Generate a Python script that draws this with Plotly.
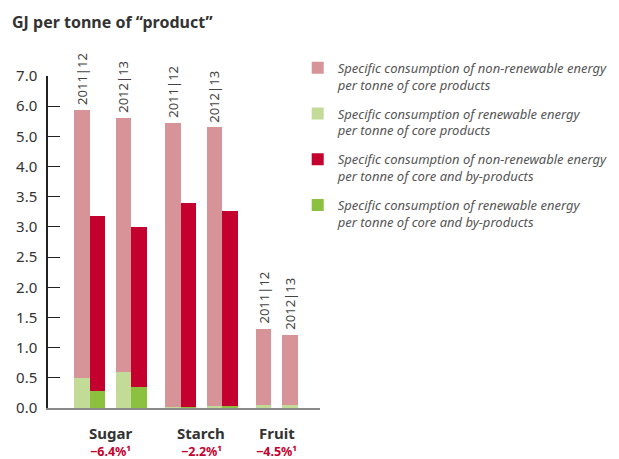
import plotly.graph_objects as go

# ---------------- data ----------------
groups = ["Sugar", "Starch", "Fruit"]
years = ["2011|12", "2012|13"]
changes = ["−6.4%¹", "−2.2%¹", "−4.5%¹"]
# per group, per year (GJ per tonne)
core_nonrenew = [[5.37, 5.00], [5.43, 5.26], [1.26, 1.16]]
core_renew = [[0.50, 0.60], [0.01, 0.04], [0.05, 0.05]]
by_nonrenew = [[2.90, 2.65], [3.38, 3.22], None]
by_renew = [[0.28, 0.35], [0.01, 0.04], None]
y_tick_values = [0.0, 0.5, 1.0, 1.5, 2.0, 2.5, 3.0, 3.5, 4.0, 5.0, 6.0, 7.0]
y_tick_labels = ["0.0", "0.5", "1.0", "1.5", "2.0", "2.5", "3.0", "3.5", "4.0", "5.0", "6.0", "7.0"]
series_names = [
    "Specific consumption of non-renewable energy<br>per tonne of core products",
    "Specific consumption of renewable energy<br>per tonne of core products",
    "Specific consumption of non-renewable energy<br>per tonne of core and by-products",
    "Specific consumption of renewable energy<br>per tonne of core and by-products",
]

# ---------------- styles ----------------
C_CORE_NR = "#d69498"
C_CORE_R = "#c2dc98"
C_BY_NR = "#c4002e"
C_BY_R = "#8bc13f"
FONT = "Noto Sans"

# the page body adds an 8px margin at top/left; the figure is sized to fit
PAGE_W, PAGE_H, BODY = 619, 459, 8
W, H = PAGE_W - BODY, PAGE_H - BODY

# the chart's value axis is piecewise: 0.5 steps up to 4.0, then 1.0 steps
def scale(v):
    return 2 * v if v <= 4 else 8 + (v - 4)

# bar slot layout (x units = pixels from the value axis)
BW = 15.6
GAP_YEAR = 10.5
GAP_GROUP = 18
START = 26

core_x, by_x, group_centers = [], [], []
cursor = START
for gi, g in enumerate(groups):
    g_left = cursor
    for yi in range(len(years)):
        core_x.append(cursor + BW / 2)
        cursor += BW
        if by_nonrenew[gi] is not None:
            by_x.append(cursor + BW / 2)
            cursor += BW
        if yi < len(years) - 1:
            cursor += GAP_YEAR
    group_centers.append((g_left + cursor) / 2)
    cursor += GAP_GROUP

cr_flat = [v for g in core_renew for v in g]
cn_flat = [v for g in core_nonrenew for v in g]
br_flat = [v for g in by_renew if g for v in g]
bn_flat = [v for g in by_nonrenew if g for v in g]

core_tot = [a + b for a, b in zip(cr_flat, cn_flat)]
by_tot = [a + b for a, b in zip(br_flat, bn_flat)]

fig = go.Figure()
fig.add_trace(go.Bar(
    x=core_x, base=[scale(v) for v in cr_flat],
    y=[scale(t) - scale(r) for t, r in zip(core_tot, cr_flat)],
    width=BW, marker=dict(color=C_CORE_NR, line=dict(width=0)),
    name=series_names[0], legendgroup="a"))
fig.add_trace(go.Bar(
    x=core_x, base=[0] * len(cr_flat), y=[scale(v) for v in cr_flat],
    width=BW, marker=dict(color=C_CORE_R, line=dict(width=0)),
    name=series_names[1], legendgroup="b"))
fig.add_trace(go.Bar(
    x=by_x, base=[scale(v) for v in br_flat],
    y=[scale(t) - scale(r) for t, r in zip(by_tot, br_flat)],
    width=BW, marker=dict(color=C_BY_NR, line=dict(width=0)),
    name=series_names[2], legendgroup="c"))
fig.add_trace(go.Bar(
    x=by_x, base=[0] * len(br_flat), y=[scale(v) for v in br_flat],
    width=BW, marker=dict(color=C_BY_R, line=dict(width=0)),
    name=series_names[3], legendgroup="d"))

annotations = []
for i, (cx, tot) in enumerate(zip(core_x, core_tot)):
    annotations.append(dict(
        x=cx, y=scale(tot), xref="x", yref="y", text=years[i % len(years)],
        textangle=-90, showarrow=False, xanchor="center", yanchor="bottom",
        yshift=3, font=dict(family=FONT, size=13, color="#444444")))
for gc, g, ch in zip(group_centers, groups, changes):
    annotations.append(dict(
        x=gc, y=0, xref="x", yref="paper", text="<b>%s</b>" % g, showarrow=False,
        xanchor="center", yanchor="middle", yshift=-25,
        font=dict(family=FONT, size=15, color="#333333")))
    annotations.append(dict(
        x=gc, y=0, xref="x", yref="paper", text="<b>%s</b>" % ch, showarrow=False,
        xanchor="center", yanchor="middle", yshift=-43,
        font=dict(family=FONT, size=12.5, color=C_BY_NR)))

# plot area in page pixels: x 48..320, y 76..408
L, R, T, B = 48 - BODY, PAGE_W - 320, 76 - BODY, PAGE_H - 408
fig.update_layout(
    width=W, height=H,
    margin=dict(l=L, r=R, t=T, b=B, autoexpand=False),
    paper_bgcolor="white", plot_bgcolor="white",
    barmode="overlay", bargap=0,
    title=dict(text="<b>GJ per tonne of “product”</b>", x=(12 - BODY) / W, xref="container",
               xanchor="left", y=1 - (22 - BODY) / H, yref="container", yanchor="middle",
               font=dict(family=FONT, size=16, color="#333333")),
    font=dict(family=FONT, color="#333333"),
    showlegend=True,
    legend=dict(x=0.918, xanchor="left", y=1.07, yanchor="top",
                font=dict(family=FONT, size=13, color="#555555", style="italic"),
                valign="top", tracegroupgap=9, bgcolor="rgba(0,0,0,0)",
                traceorder="grouped"),
    annotations=annotations,
    xaxis=dict(range=[0, 272], showgrid=False, zeroline=False, showticklabels=False,
               ticks="", showline=True, linecolor="#8a8a8a", linewidth=2, fixedrange=True),
    yaxis=dict(range=[0, 11], tickvals=[scale(v) for v in y_tick_values],
               ticktext=y_tick_labels, showgrid=False, zeroline=False,
               ticks="inside", ticklen=12, tickcolor="#222222", tickwidth=1,
               showline=True, linecolor="#222222", linewidth=1.5,
               tickfont=dict(family=FONT, size=15, color="#333333"),
               ticklabelstandoff=6, fixedrange=True),
)

fig.write_html("out.html")
